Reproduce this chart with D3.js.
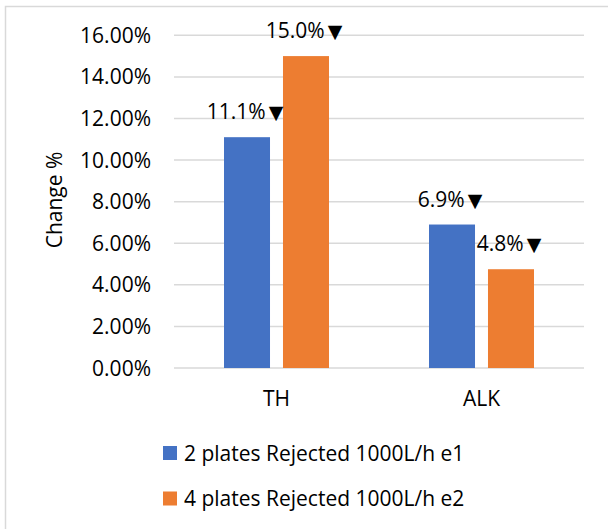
<!DOCTYPE html>
<html lang="en">
<head>
  <meta charset="UTF-8">
  <title>Change % by parameter</title>
  <script src="https://d3js.org/d3.v7.min.js"></script>
  <style>
    body {
      margin: 0;
      background: #fff;
    }

    svg text {
      font-family: "Open Sans", sans-serif;
      fill: #000;
    }

    .grid line {
      stroke: #d9d9d9;
      stroke-width: 1.5px;
    }
  </style>
</head>
<body>

  <svg id="chart" width="608" height="529"></svg>

  <script>
    // Data
    const categories = ["TH", "ALK"];
    const seriesNames = ["2 plates Rejected 1000L/h e1", "4 plates Rejected 1000L/h e2"];
    const seriesColors = ["#4472C4", "#ED7D31"];
    const e1Values = [11.1, 6.9];
    const e2Values = [15.0, 4.75];
    const yTicks = [0, 2, 4, 6, 8, 10, 12, 14, 16];

    const seriesValues = [e1Values, e2Values];

    const svg = d3.select("#chart");
    const fontSize = 21;

    // outer border (only left and top are visible in the frame)
    svg.append("rect")
      .attr("x", 5.5)
      .attr("y", 6.5)
      .attr("width", 640)
      .attr("height", 560)
      .attr("fill", "none")
      .attr("stroke", "#d9d9d9")
      .attr("stroke-width", 1.5);

    const plot = { left: 174, right: 584, top: 35.3, bottom: 368 };

    const x = d3.scaleBand()
      .domain(categories)
      .range([plot.left, plot.right]);

    const xInner = d3.scaleBand()
      .domain(d3.range(seriesNames.length))
      .range([50, 155])
      .paddingInner(0.22);

    const y = d3.scaleLinear()
      .domain([0, 16])
      .range([plot.bottom, plot.top]);

    // gridlines
    svg.append("g")
      .attr("class", "grid")
      .selectAll("line")
      .data(yTicks)
      .enter().append("line")
      .attr("x1", plot.left)
      .attr("x2", plot.right)
      .attr("y1", d => y(d))
      .attr("y2", d => y(d));

    // y axis labels
    svg.append("g")
      .selectAll("text")
      .data(yTicks)
      .enter().append("text")
      .attr("x", 151)
      .attr("y", d => y(d))
      .attr("dy", "0.36em")
      .attr("text-anchor", "end")
      .style("font-size", fontSize + "px")
      .text(d => d.toFixed(2) + "%");

    // y axis title
    svg.append("text")
      .attr("transform", "translate(62,200) rotate(-90)")
      .attr("text-anchor", "middle")
      .style("font-size", fontSize + "px")
      .text("Change %");

    // bars
    const bars = [];
    seriesValues.forEach((vals, s) => {
      vals.forEach((v, i) => bars.push({ cat: categories[i], s: s, v: v }));
    });

    svg.append("g")
      .selectAll("rect")
      .data(bars)
      .enter().append("rect")
      .attr("x", d => x(d.cat) + xInner(d.s))
      .attr("y", d => y(d.v))
      .attr("width", xInner.bandwidth())
      .attr("height", d => y(0) - y(d.v))
      .attr("fill", d => seriesColors[d.s]);

    // data labels: value + down triangle
    const labels = svg.append("g")
      .selectAll("text")
      .data(bars)
      .enter().append("text")
      .attr("x", d => x(d.cat) + xInner(d.s) + xInner.bandwidth() / 2 - 2)
      .attr("y", d => y(d.v) - 18)
      .attr("text-anchor", "middle")
      .style("font-size", fontSize + "px");

    labels.append("tspan")
      .text(d => d.v.toFixed(1) + "%");

    labels.append("tspan")
      .attr("dx", 3)
      .style("font-family", "'DejaVu Sans'")
      .style("font-size", "19px")
      .text("\u25BC");

    // category labels
    svg.append("g")
      .selectAll("text")
      .data(categories)
      .enter().append("text")
      .attr("x", d => x(d) + x.bandwidth() / 2)
      .attr("y", 406)
      .attr("text-anchor", "middle")
      .style("font-size", fontSize + "px")
      .text(d => d);

    // legend
    const legend = svg.append("g")
      .selectAll("g")
      .data(seriesNames)
      .enter().append("g")
      .attr("transform", (d, i) => `translate(163,${446 + i * 45.5})`);

    legend.append("rect")
      .attr("width", 14)
      .attr("height", 14)
      .attr("fill", (d, i) => seriesColors[i]);

    legend.append("text")
      .attr("x", 21)
      .attr("y", 14.5)
      .style("font-size", fontSize + "px")
      .text(d => d);
  </script>

</body>
</html>
